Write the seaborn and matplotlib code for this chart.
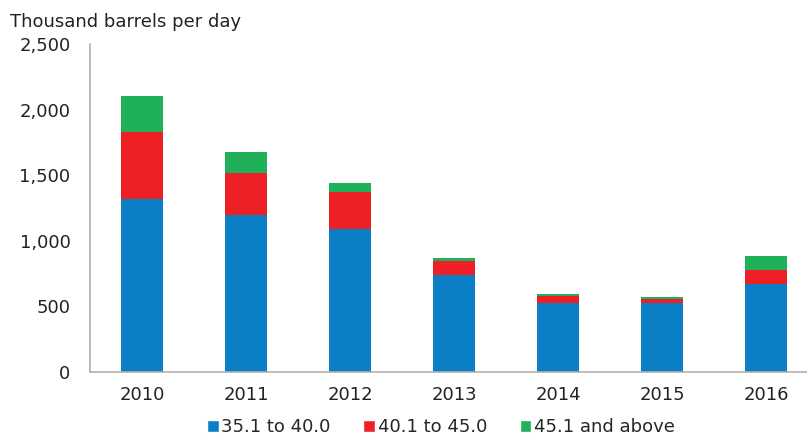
import matplotlib
matplotlib.use("Agg")
import matplotlib.pyplot as plt
import seaborn as sns
import numpy as np
import pandas as pd
from matplotlib.patches import Patch

years = ["2010", "2011", "2012", "2013", "2014", "2015", "2016"]
low = [1316, 1197, 1090, 742, 526, 526, 668]      # 35.1 to 40.0
mid = [516, 320, 284, 104, 53, 30, 112]           # 40.1 to 45.0
high = [268, 157, 69, 23, 13, 16, 104]            # 45.1 and above
series_names = ["35.1 to 40.0", "40.1 to 45.0", "45.1 and above"]
colors = ["#0a7fc5", "#ee2026", "#20b05a"]

sns.set_theme(style="white")
plt.rcParams['font.family'] = ['DejaVu Sans']
FS = 13
TXT = "#222222"

df = pd.DataFrame({"year": years, "low": low, "mid": mid, "high": high})
df["low_mid"] = df["low"] + df["mid"]
df["total"] = df["low_mid"] + df["high"]

fig = plt.figure(figsize=(8.07, 4.36), dpi=100)
ax = fig.add_axes([90 / 807, 1 - 372 / 436, 728 / 807, 328 / 436])

# stacked look: draw cumulative totals from the top down
for col, c in zip(["total", "low_mid", "low"], colors[::-1]):
    sns.barplot(data=df, x="year", y=col, color=c, width=0.41,
                saturation=1, linewidth=0, ax=ax)

ax.set_xlim(-0.5, 6.5)
ax.set_ylim(0, 2500)
ax.set_yticks(np.arange(0, 2501, 500))
ax.set_yticklabels([f"{v:,}" for v in range(0, 2501, 500)], fontsize=FS, color=TXT)
ax.set_xticks(np.arange(7))
ax.set_xticklabels(years, fontsize=FS, color=TXT)
ax.set_xticks(np.arange(-0.5, 7, 1), minor=True)
ax.tick_params(axis="x", which="major", length=0, pad=10)
ax.tick_params(axis="x", which="minor", length=4, color="#b0b0b0", direction="out")
ax.tick_params(axis="y", length=5, color="#b0b0b0", direction="out", pad=9)
ax.set_xlabel("")
ax.set_ylabel("")
for s in ["top", "right"]:
    ax.spines[s].set_visible(False)
for s in ["left", "bottom"]:
    ax.spines[s].set_color("#b0b0b0")
    ax.spines[s].set_linewidth(1.2)

fig.text(10 / 807, 1 - 22 / 436, "Thousand barrels per day", fontsize=FS,
         color=TXT, va="center", ha="left")

handles = [Patch(facecolor=c, label=n) for c, n in zip(colors, series_names)]
fig.legend(handles=handles, loc="center", bbox_to_anchor=(441 / 807, 1 - 427 / 436),
           ncol=3, frameon=False, fontsize=FS, handlelength=0.65, handleheight=0.65,
           handletextpad=0.15, columnspacing=1.8, borderpad=0)

fig.savefig("out.png", dpi=100)
